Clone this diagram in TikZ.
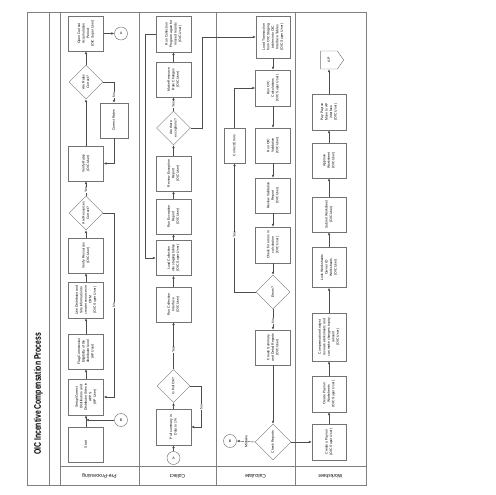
\documentclass[tikz,border=0pt]{standalone}
\usepackage{fontspec}
\setmainfont{Liberation Sans}
\usetikzlibrary{shapes.geometric,shapes.symbols,arrows.meta}
\newcommand{\rtx}[1]{\rotatebox{90}{\begin{tabular}{@{}c@{}}#1\end{tabular}}}
\begin{document}
\begin{tikzpicture}[x=1pt,y=-1pt,
 frame/.style={draw=black!50, line width=0.6pt},
 box/.style={draw=black!55, line width=0.45pt, rectangle, minimum width=35pt, minimum height=35pt, inner sep=0.3pt, font=\fontsize{3.4}{4.5}\selectfont},
 dia/.style={draw=black!55, line width=0.45pt, diamond, aspect=1, minimum width=34pt, minimum height=34pt, inner sep=0.3pt, font=\fontsize{3.4}{4.5}\selectfont},
 con/.style={draw=black!55, line width=0.45pt, circle, minimum size=13pt, inner sep=0pt, font=\fontsize{3.6}{4}\selectfont},
 arr/.style={draw=black!70, line width=0.45pt, -{Latex[length=2.8pt,width=2.4pt]}},
 lbl/.style={fill=white, inner sep=0.4pt, rotate=90, font=\fontsize{3.5}{3.8}\selectfont},
 lane/.style={rotate=180, font=\fontsize{5}{6}\selectfont}
 ]
\useasboundingbox (0,0) rectangle (495,495);
% frame
\draw[frame] (27,12) rectangle (366,485);
\draw[frame] (49,12) -- (49,485);
\draw[frame] (60,12) -- (60,485);
\draw[frame] (139,12) -- (139,485);
\draw[frame] (216,12) -- (216,485);
\draw[frame] (295,12) -- (295,485);
\draw[frame] (60,466) -- (366,466);
\node[rotate=90, font=\bfseries\fontsize{9.5}{11}\selectfont] (title) at (38.5,394) {\scalebox{0.72}[1]{OIC Incentive Compensation Process}};
\node[lane] (l1) at (99.5,476) {Pre-Processing};
\node[lane] (l2) at (177.5,476) {Collect};
\node[lane] (l3) at (255.5,476) {Calculate};
\node[lane] (l4) at (330.5,476) {Worksheet};

% Pre-Processing
\node[box] (open) at (86,33.5) {\rtx{Open Current\\Accumulation\\Period\\(OIC Super User)}};
\node[con] (a1) at (121,33.5) {A};
\node[dia] (rok) at (86,82) {\rtx{Are Rates\\Correct?}};
\node[box, minimum width=28pt] (crates) at (114,120.5) {\rtx{Correct Rates}};
\node[box] (vrates) at (86,163.5) {\rtx{Verify Rates\\(OIC User)}};
\node[dia] (resok) at (86,213) {\rtx{Are Resources\\Correct?}};
\node[box] (vres) at (86,255.5) {\rtx{Verify Resources\\(OIC User)}};
\node[box, minimum height=36pt] (usedist) at (86,300) {\rtx{Use Distributor and\\Site Information to\\create resources in\\CRM\\(OIC Super User)}};
\node[box] (flag) at (86,351.5) {\rtx{Flag Commission\\Eligibility of the\\distributor level\\(AP User)}};
\node[box, minimum height=36pt] (setup) at (86,397) {\rtx{Setup/Correct\\Distributors and\\Distributor Sites in\\APPS\\(AP User)}};
\node[con] (b1) at (121,420) {B};
\coordinate (jb) at (86,420);
\node[box] (start) at (86,444.5) {\rtx{Start}};

\draw[arr] (start) -- (setup);
\draw[arr] (b1) -- (jb);
\draw[arr] (setup) -- (flag);
\draw[arr] (flag) -- (usedist);
\draw[arr] (usedist) -- (vres);
\draw[arr] (vres) -- (resok);
\draw[arr] (resok) -- (vrates);
\node[lbl] (y1) at (86,190) {Yes};
\draw[arr] (vrates) -- (rok);
\draw[arr] (rok) -- (open);
\draw[arr] (open) -- (a1);
\draw[arr] (resok.east) -- ++(11,0) |- (setup.east);
\node[lbl] (n1) at (114,305) {No};
\draw[arr] (rok.east) -| (crates.north);
\node[lbl] (n2) at (114,95) {No};
\draw[arr] (crates.south) |- (vrates.east);

% Collect
\node[con] (a2) at (173.5,458) {A};
\node[box, minimum height=36pt] (pull) at (173.5,427) {\rtx{Pull summary in\\Data to 1\%}};
\node[dia, minimum width=33pt, minimum height=33pt] (pok) at (173.5,386) {\rtx{Is Pull OK?}};
\node[box] (runcoll) at (173.5,304.5) {\rtx{Run Collection\\Interface\\(OIC User)}};
\node[box] (loadcoll) at (173.5,258) {\rtx{Load Collection\\into staging tables\\(OIC Super User)}};
\node[box] (runexc) at (173.5,216.5) {\rtx{Run Exception\\Report\\(OIC User)}};
\node[box] (revexc) at (173.5,173.5) {\rtx{Review Exception\\Report\\(OIC User)}};
\node[dia] (eok) at (173.5,128) {\rtx{Are there\\exceptions?}};
\node[box] (mrate) at (173.5,79.5) {\rtx{Make Resource\\Rate Changes\\(OIC User)}};
\node[box, minimum height=36pt] (again) at (173.5,34) {\rtx{Run Collection\\Program again for\\missed records\\(OIC User)}};

% Calculate
\node[box, minimum width=34pt, minimum height=42pt] (loadtx) at (273,37) {\rtx{Load Transaction\\from OIC Staging\\tables into OIC\\Interface Tables\\(OIC Super User)}};
\node[box, minimum height=36pt] (runcalc) at (273,88) {\rtx{Run OIC\\Calculations\\(OIC Super User)}};
\node[box] (runval) at (273,145.5) {\rtx{Run OIC\\Validation\\(OIC User)}};
\node[box] (revval) at (273,195.5) {\rtx{Review Validation\\Report\\(OIC User)}};
\node[box, minimum height=36pt] (checkerr) at (273,245) {\rtx{Check for errors in\\calculation\\(OIC User)}};
\node[dia] (errd) at (273,292) {\rtx{Errors?}};
\node[box] (csum) at (273,347.5) {\rtx{Create Summary\\and Detail Reports\\(OIC User)}};
\node[dia, minimum width=36pt, minimum height=36pt] (crep) at (273,442) {\rtx{Check Reports}};
\node[con] (b2) at (230,441) {B};
\node[box, minimum width=21pt] (cerr) at (234.5,145.5) {\rtx{Correct Errors}};

% Worksheet
\node[box, minimum width=34pt, minimum height=36pt] (payrun) at (329,442) {\rtx{Create a Payrun\\(OIC Super User)}};
\node[box, minimum width=34pt, minimum height=36pt] (payws) at (329,394) {\rtx{Create Payrun\\Worksheets\\(OIC Super User)}};
\node[box, minimum width=34pt, minimum height=48pt] (compa) at (329,337) {\rtx{Compensation Analyst\\reviews worksheets and\\can make changes to pay\\amount\\(OIC User)}};
\node[box, minimum width=34pt, minimum height=40pt] (lock) at (329,267.5) {\rtx{Lock Worksheets\\Owner ID\\Worksheets\\(OIC User)}};
\node[box, minimum width=34pt] (submit) at (329,214.5) {\rtx{Submit Worksheet\\(OIC User)}};
\node[box, minimum width=34pt] (approve) at (329,160.5) {\rtx{Approve\\Worksheet\\(OIC User)}};
\node[box, minimum width=34pt, minimum height=36pt] (payap) at (329,112) {\rtx{Pay Payrun\\Move to AP\\interface\\(OIC User)}};
\node[draw=black!55, line width=0.45pt, signal, signal to=east, signal pointer angle=110, minimum width=23pt, minimum height=18pt, inner sep=0pt, font=\fontsize{3.6}{4}\selectfont] (ap) at (329,60) {\rotatebox{90}{AP}};

% Collect connectors
\draw[arr] (a2) -- (pull);
\draw[arr] (pull) -- (pok);
\draw[arr] (pok) -- (runcoll);
\node[lbl] (y2) at (173.5,350) {Yes};
\draw[arr] (pok.east) -- ++(11,0) |- (pull.east);
\node[lbl] (n3) at (201.5,407) {No};
\draw[arr] (runcoll) -- (loadcoll);
\draw[arr] (loadcoll) -- (runexc);
\draw[arr] (runexc) -- (revexc);
\draw[arr] (revexc) -- (eok);
\draw[arr] (eok) -- (mrate);
\node[lbl] (y3) at (173.5,104.5) {Yes};
\draw[arr] (mrate) -- (again);
\draw[arr] (again.west) -- ++(-11,0) |- (loadcoll.west);
\draw[arr] (eok.east) -- ++(11,0) |- (loadtx.west);

% Calculate connectors
\draw[arr] (loadtx) -- (runcalc);
\draw[arr] (runcalc) -- (runval);
\draw[arr] (runval) -- (revval);
\draw[arr] (revval) -- (checkerr);
\draw[arr] (checkerr) -- (errd);
\draw[arr] (errd) -- (csum);
\node[lbl] (n4) at (273,321) {No};
\draw[arr] (csum) -- (crep);
\draw[arr] (errd.west) -| (cerr.south);
\node[lbl] (y4) at (234.5,235) {Yes};
\draw[arr] (cerr.north) |- (runcalc.west);
\draw[arr] (crep.west) -- (b2.east);
\node[lbl] (mis) at (246,441.5) {Mistake};
\draw[arr] (crep.east) -- (payrun.west);

% Worksheet connectors
\draw[arr] (payrun) -- (payws);
\draw[arr] (payws) -- (compa);
\draw[arr] (compa) -- (lock);
\draw[arr] (lock) -- (submit);
\draw[arr] (submit) -- (approve);
\draw[arr] (approve) -- (payap);
\draw[arr] (payap) -- (ap);
\end{tikzpicture}
\end{document}
